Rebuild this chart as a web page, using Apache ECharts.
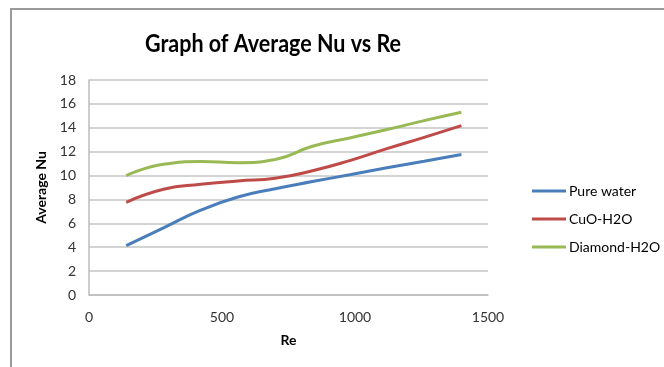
<!DOCTYPE html>
<html>
<head>
<meta charset="utf-8">
<script src="https://cdn.jsdelivr.net/npm/echarts@6/dist/echarts.min.js"></script>
<style>
  html, body { margin: 0; padding: 0; background: #fff; }
  #chart { width: 664px; height: 367px; }
</style>
</head>
<body>
<div id="chart"></div>
<script>
// Reynolds numbers shared by every series
const reValues = [140, 280, 420, 560, 700, 840, 980, 1120, 1260, 1400];

// Average Nusselt number per fluid
const pureWater  = [4.13, 5.62, 7.10, 8.20, 8.90, 9.50, 10.07, 10.65, 11.20, 11.76];
const cuoH2O     = [7.76, 8.85, 9.27, 9.55, 9.78, 10.40, 11.25, 12.25, 13.20, 14.18];
const diamondH2O = [10.0, 10.95, 11.17, 11.08, 11.35, 12.45, 13.15, 13.85, 14.60, 15.30];

const seriesNames = ['Pure water', 'CuO-H2O', 'Diamond-H2O'];
const seriesColors = ['#4A7EBB', '#BE4B48', '#98B954'];

const FONT = 'Lato';

function pairs(ys) {
  return reValues.map((x, i) => [x, ys[i]]);
}

const chart = echarts.init(document.getElementById('chart'), null, { renderer: 'canvas' });

chart.setOption({
  animation: false,
  backgroundColor: '#fff',
  graphic: [{
    type: 'rect',
    shape: { x: 11, y: 9, width: 700, height: 400 },
    style: { fill: 'none', stroke: '#9a9a9a', lineWidth: 2 },
    silent: true
  }, {
    // chart title, narrowed slightly
    type: 'text',
    x: 273, y: 44,
    scaleX: 0.86,
    style: {
      text: 'Graph of Average Nu vs Re',
      fontFamily: FONT, fontSize: 25, fontWeight: 'bold', fill: '#000',
      align: 'center', verticalAlign: 'middle'
    },
    silent: true
  }],
  legend: {
    orient: 'vertical',
    left: 527,
    top: 179,
    itemWidth: 34,
    itemHeight: 3,
    itemGap: 14,
    icon: 'rect',
    data: seriesNames,
    textStyle: { fontFamily: FONT, fontSize: 14, color: '#000', padding: [0, 0, 0, -2] }
  },
  grid: { left: 89, right: 176, top: 80, bottom: 72 },
  xAxis: {
    type: 'value',
    min: 0, max: 1500, interval: 500,
    name: 'Re',
    nameLocation: 'middle',
    nameGap: 38,
    nameTextStyle: { fontFamily: FONT, fontSize: 14, fontWeight: 'bold', color: '#000' },
    axisLine: { show: true, lineStyle: { color: '#bdbdbd', width: 1.5 } },
    axisTick: { show: false },
    splitLine: { show: false },
    axisLabel: { fontFamily: FONT, fontSize: 14, color: '#333', margin: 15, formatter: v => String(v) }
  },
  yAxis: {
    type: 'value',
    min: 0, max: 18, interval: 2,
    name: 'Average Nu',
    nameLocation: 'middle',
    nameGap: 37,
    nameTextStyle: { fontFamily: FONT, fontSize: 14, fontWeight: 'bold', color: '#000' },
    axisLine: { show: true, lineStyle: { color: '#bdbdbd', width: 1.5 } },
    axisTick: { show: false },
    splitLine: { show: true, lineStyle: { color: '#c4c4c4', width: 1.5 } },
    axisLabel: { fontFamily: FONT, fontSize: 14, color: '#333', margin: 13 }
  },
  series: [pureWater, cuoH2O, diamondH2O].map((ys, i) => ({
    name: seriesNames[i],
    type: 'line',
    data: pairs(ys),
    smooth: 0.5,
    showSymbol: false,
    symbol: 'none',
    color: seriesColors[i],
    lineStyle: { color: seriesColors[i], width: 3 }
  }))
});
</script>
</body>
</html>
